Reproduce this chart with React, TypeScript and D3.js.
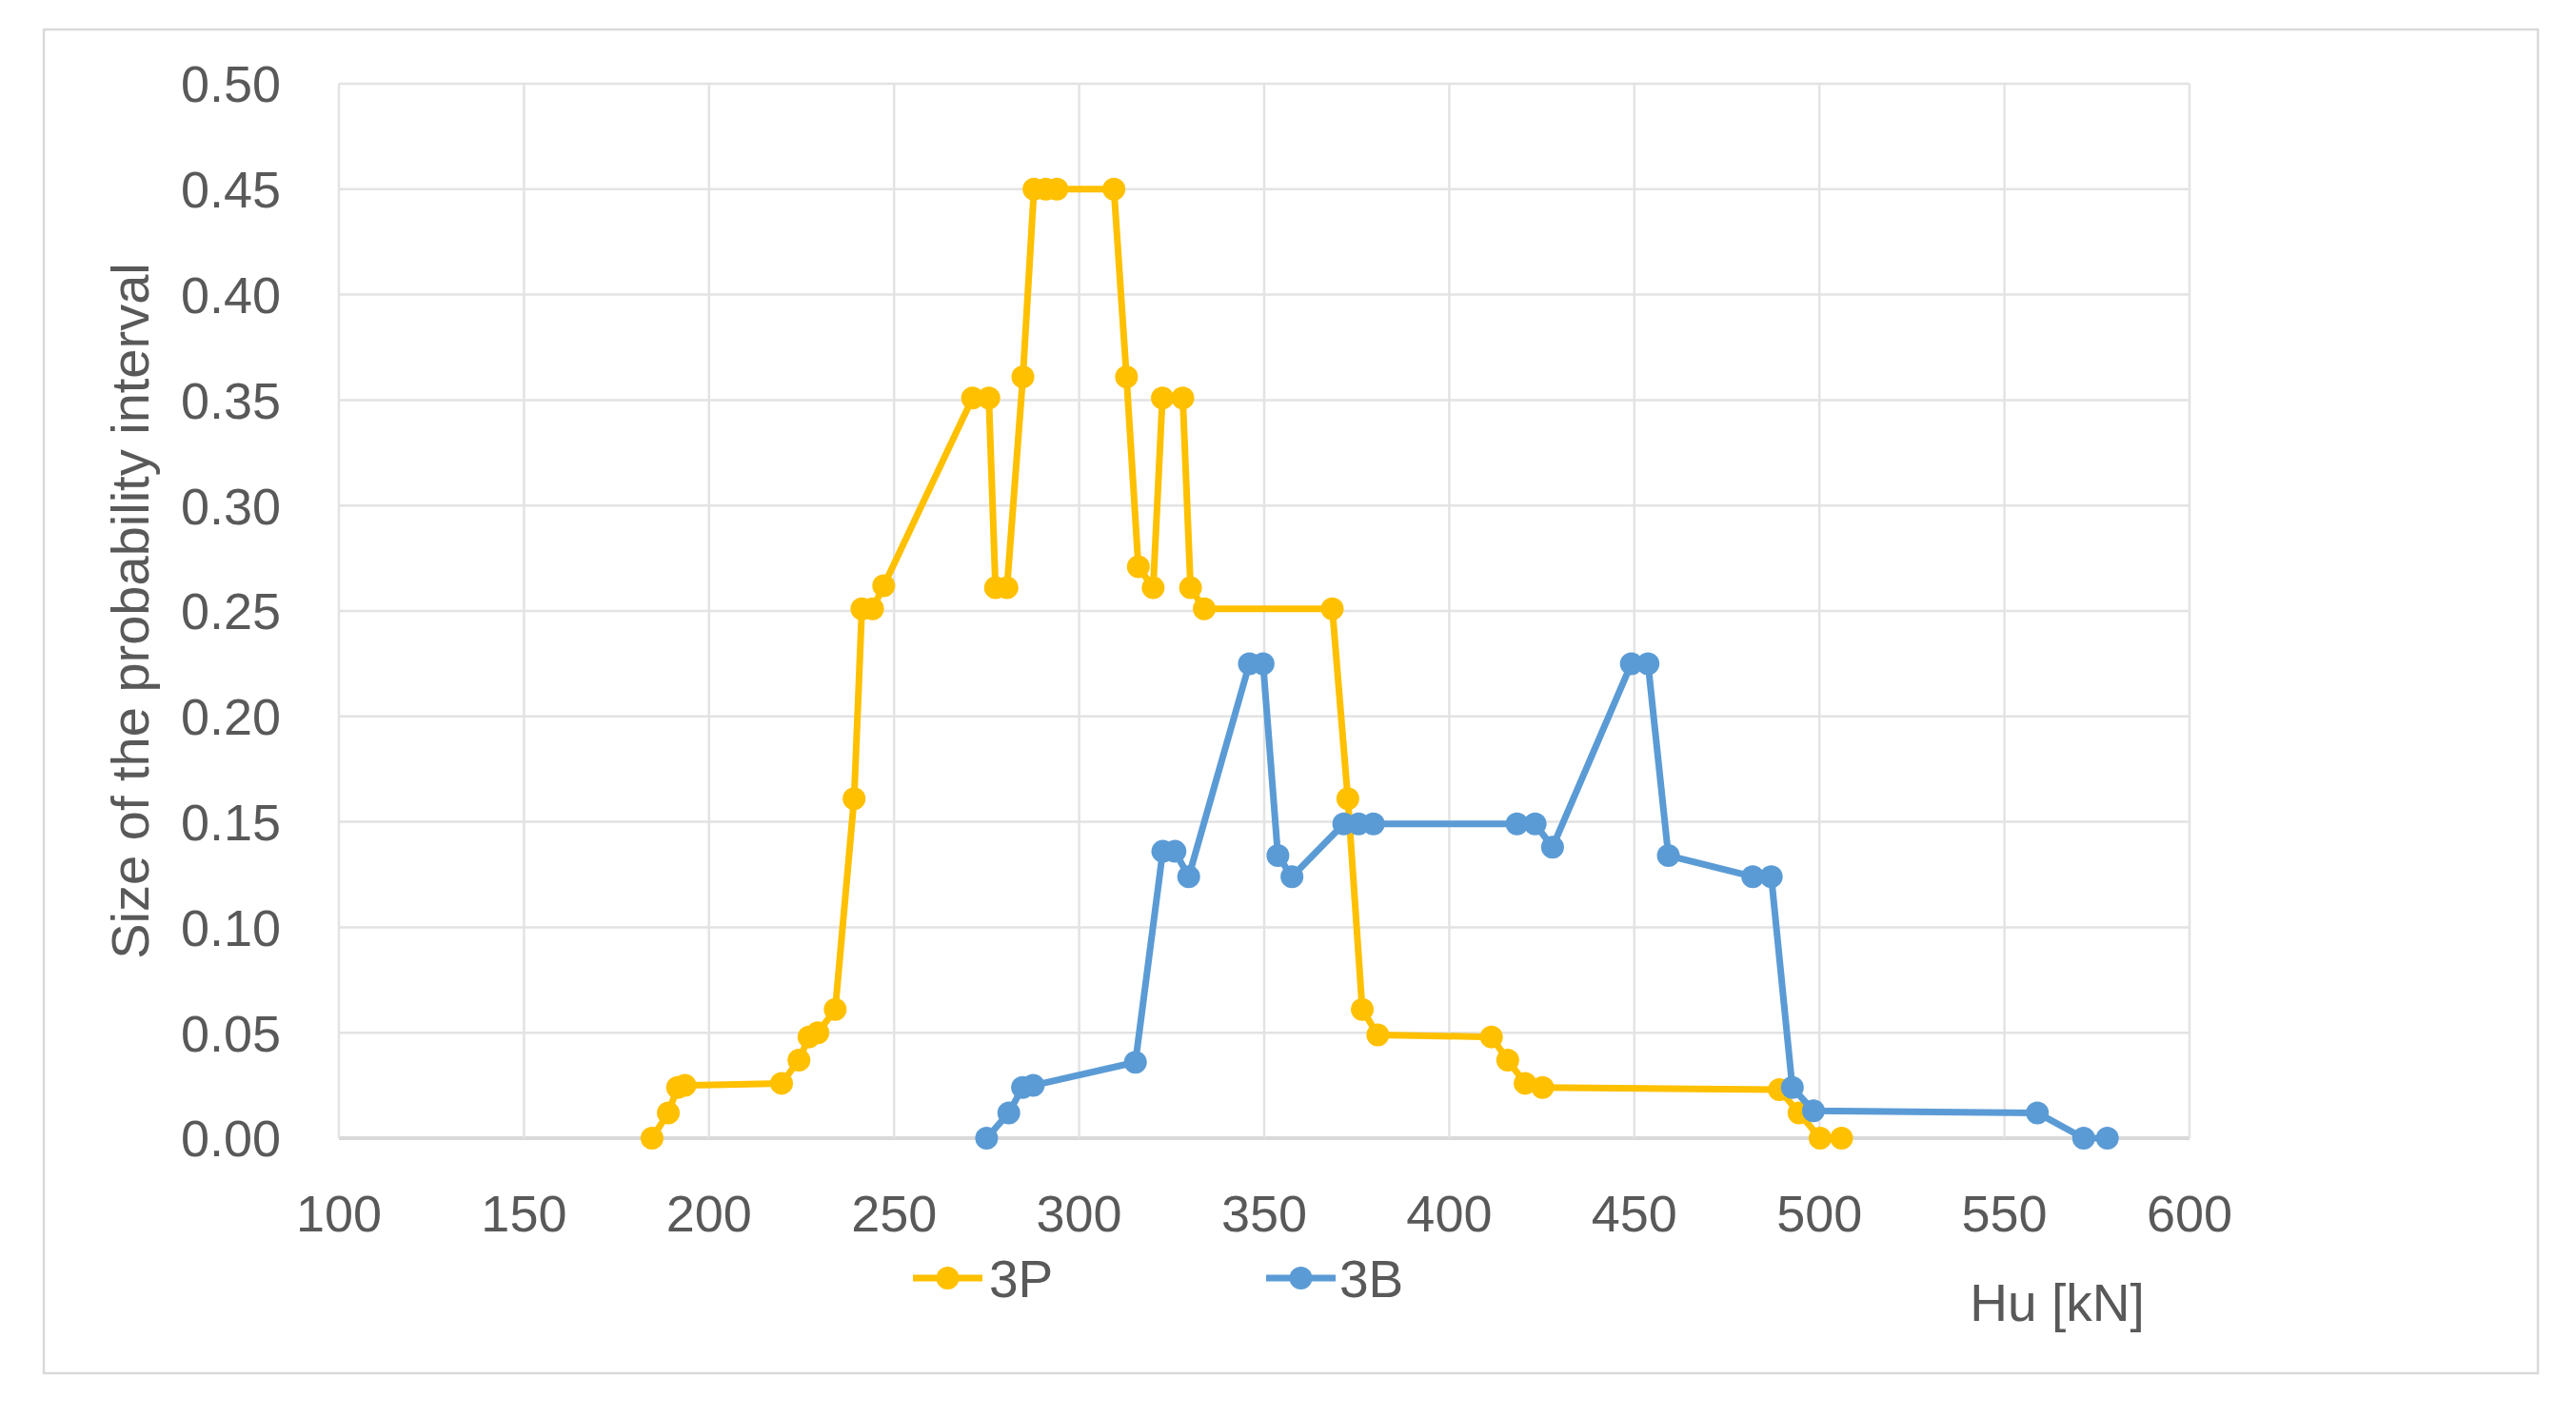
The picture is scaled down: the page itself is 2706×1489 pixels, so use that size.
import React from "react";
import * as d3 from "d3";

const xTicks = [100, 150, 200, 250, 300, 350, 400, 450, 500, 550, 600];
const yTicks = [0, 0.05, 0.1, 0.15, 0.2, 0.25, 0.3, 0.35, 0.4, 0.45, 0.5];

const hu3P = [184.6, 189, 191.5, 193.5, 219.6, 224.3, 227, 229.4, 234.1, 239.2, 241.3, 244.2, 247.2, 271.2, 275.6, 277.4, 280.5, 284.8, 287.8, 291, 294, 309.4, 312.8, 316, 320, 322.5, 328, 330.1, 333.8, 368.4, 372.6, 376.5, 380.7, 411.4, 415.8, 420.5, 425.2, 489.2, 494.5, 500.2, 506];
const p3P = [0, 0.012, 0.024, 0.025, 0.026, 0.037, 0.048, 0.05, 0.061, 0.161, 0.251, 0.251, 0.262, 0.351, 0.351, 0.261, 0.261, 0.361, 0.45, 0.45, 0.45, 0.45, 0.361, 0.271, 0.261, 0.351, 0.351, 0.261, 0.251, 0.251, 0.161, 0.061, 0.049, 0.048, 0.037, 0.026, 0.024, 0.023, 0.012, 0, 0];

const hu3B = [275, 281, 284.7, 287.6, 315.2, 322.6, 325.9, 329.6, 346, 349.7, 353.7, 357.5, 371.5, 375.5, 379.5, 418.3, 423.2, 427.9, 449.2, 453.7, 459.2, 482, 487, 492.7, 498.4, 558.9, 571.4, 577.8];
const p3B = [0, 0.012, 0.024, 0.025, 0.036, 0.136, 0.136, 0.124, 0.225, 0.225, 0.134, 0.124, 0.149, 0.149, 0.149, 0.149, 0.149, 0.138, 0.225, 0.225, 0.134, 0.124, 0.124, 0.024, 0.013, 0.012, 0, 0];

const seriesNames = ["3P", "3B"];
const colors = ["#FFC000", "#5B9BD5"];

const W = 2706;
const H = 1489;
const left = 356, right = 2300, top = 88, bottom = 1196;
const FONT = "'Liberation Sans', Arial, sans-serif";
const TXT = "#595959";

export default function App() {
  const x = d3.scaleLinear().domain([100, 600]).range([left, right]);
  const y = d3.scaleLinear().domain([0, 0.5]).range([bottom, top]);
  const line = d3.line<[number, number]>().x((d) => x(d[0])).y((d) => y(d[1]));
  const s1: [number, number][] = hu3P.map((v, i) => [v, p3P[i]]);
  const s2: [number, number][] = hu3B.map((v, i) => [v, p3B[i]]);
  const series = [s1, s2];
  const legendX = [[959, 1032, 1039], [1330, 1403, 1407]];

  return (
    <svg width={W} height={H} style={{ position: "absolute", left: 0, top: 0, background: "#fff" }}>
      <rect x={0} y={0} width={W} height={H} fill="#fff" />
      <rect x={46} y={31} width={2620} height={1412} fill="none" stroke="#d9d9d9" strokeWidth={2.5} />
      {yTicks.map((t) => (
        <line key={"gy" + t} x1={left} x2={right} y1={y(t)} y2={y(t)} stroke={t === 0 ? "#d9d9d9" : "#e3e3e3"} strokeWidth={t === 0 ? 4 : 2.5} />
      ))}
      {xTicks.map((t) => (
        <line key={"gx" + t} x1={x(t)} x2={x(t)} y1={top} y2={bottom} stroke="#e3e3e3" strokeWidth={2.5} />
      ))}
      {yTicks.map((t) => (
        <text key={"ty" + t} x={295} y={y(t)} dy="0.36em" textAnchor="end" fontFamily={FONT} fontSize={54} fill={TXT}>
          {t.toFixed(2)}
        </text>
      ))}
      {xTicks.map((t) => (
        <text key={"tx" + t} x={x(t)} y={1275} dy="0.36em" textAnchor="middle" fontFamily={FONT} fontSize={54} fill={TXT}>
          {t}
        </text>
      ))}
      <text transform={`translate(136,${(top + bottom) / 2}) rotate(-90)`} textAnchor="middle" dy="0.36em" fontFamily={FONT} fontSize={56} fill={TXT}>
        Size of the probability interval
      </text>
      <text x={2161} y={1368} dy="0.36em" textAnchor="middle" fontFamily={FONT} fontSize={55} fill={TXT}>
        Hu [kN]
      </text>
      {series.map((s, i) => (
        <g key={"s" + i}>
          <path d={line(s) || ""} fill="none" stroke={colors[i]} strokeWidth={7} strokeLinejoin="round" />
          {s.map((d, j) => (
            <circle key={j} cx={x(d[0])} cy={y(d[1])} r={12} fill={colors[i]} />
          ))}
        </g>
      ))}
      {seriesNames.map((n, i) => (
        <g key={"lg" + n}>
          <line x1={legendX[i][0]} x2={legendX[i][1]} y1={1343} y2={1343} stroke={colors[i]} strokeWidth={7} />
          <circle cx={(legendX[i][0] + legendX[i][1]) / 2} cy={1343} r={12} fill={colors[i]} />
          <text x={legendX[i][2]} y={1343} dy="0.36em" fontFamily={FONT} fontSize={55} fill={TXT}>
            {n}
          </text>
        </g>
      ))}
    </svg>
  );
}
